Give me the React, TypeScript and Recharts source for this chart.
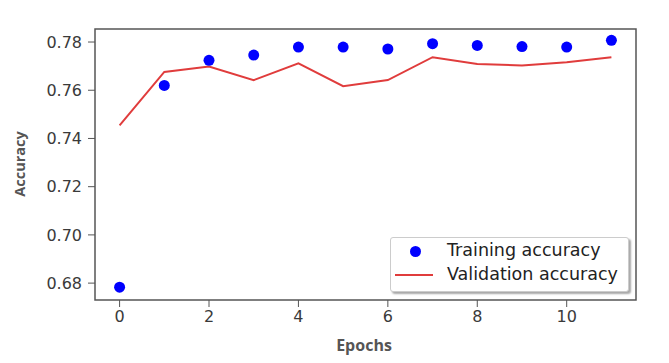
import {
  ComposedChart,
  Line,
  Scatter,
  XAxis,
  YAxis,
  ReferenceArea,
} from "recharts";

const EPOCHS = [0, 1, 2, 3, 4, 5, 6, 7, 8, 9, 10, 11];
const TRAIN_ACC = [0.6783, 0.762, 0.7724, 0.7746, 0.7779, 0.7779, 0.7771, 0.7793, 0.7786, 0.7781, 0.7779, 0.7807];
const VAL_ACC = [0.7454, 0.7676, 0.7698, 0.7642, 0.7712, 0.7617, 0.7642, 0.7737, 0.7709, 0.7703, 0.7716, 0.7737];
const X_TICKS = [0, 2, 4, 6, 8, 10];
const Y_TICKS = [0.68, 0.7, 0.72, 0.74, 0.76, 0.78];
const X_DOMAIN: [number, number] = [-0.55, 11.55];
const Y_DOMAIN: [number, number] = [0.673, 0.7854];

const data = EPOCHS.map((epoch, i) => ({
  epoch,
  train: TRAIN_ACC[i],
  val: VAL_ACC[i],
}));

const FRAME = "#555";
const TEXT = "#3a3a3a";
const FONT = "'DejaVu Sans', sans-serif";
const LABEL_FONT = "'Open Sans', sans-serif";
const TICK = { fontSize: 16, fill: TEXT, fontFamily: FONT } as const;

function LegendBox() {
  return (
    <div
      style={{
        position: "absolute",
        left: 390,
        top: 237,
        width: 239,
        height: 55,
        border: "1px solid #ccc",
        borderRadius: 3,
        background: "#fff",
        boxShadow: "2px 2px 2px rgba(0,0,0,0.35)",
        fontFamily: FONT,
        fontSize: 17.5,
        color: "#222",
        boxSizing: "border-box",
      }}
    >
      <div style={{ position: "absolute", left: 19, top: 8, width: 11, height: 11, borderRadius: 6, background: "#0000ff" }} />
      <div style={{ position: "absolute", left: 56, top: 2, whiteSpace: "nowrap" }}>Training accuracy</div>
      <div style={{ position: "absolute", left: 4, top: 36, width: 38, height: 2, background: "#e03c3c" }} />
      <div style={{ position: "absolute", left: 56, top: 26, whiteSpace: "nowrap" }}>Validation accuracy</div>
    </div>
  );
}

export default function App() {
  return (
    <div style={{ position: "absolute", left: 0, top: 0, width: 669, height: 363, background: "#fff" }}>
      <ComposedChart
        width={669}
        height={363}
        data={data}
        margin={{ top: 29, right: 33, bottom: 23, left: 0 }}
      >
        <XAxis
          dataKey="epoch"
          type="number"
          domain={X_DOMAIN}
          ticks={X_TICKS}
          allowDataOverflow
          height={40}
          tick={TICK}
          tickSize={7}
          tickMargin={4}
          tickLine={{ stroke: FRAME }}
          axisLine={false}
          label={{
            content: () => (
              <text x={364} y={351} textAnchor="middle" fontSize={16} fontWeight={700} fill="#555" fontFamily={LABEL_FONT}>
                Epochs
              </text>
            ),
          }}
        />
        <YAxis
          type="number"
          domain={Y_DOMAIN}
          ticks={Y_TICKS}
          allowDataOverflow
          width={95}
          tick={TICK}
          tickSize={7}
          tickMargin={6}
          tickFormatter={(v) => Number(v).toFixed(2)}
          tickLine={{ stroke: FRAME }}
          axisLine={false}
          label={{
            content: () => (
              <text
                x={25}
                y={164}
                transform="rotate(-90 25 164)"
                textAnchor="middle"
                fontSize={14.5}
                fontWeight={700}
                fill="#555"
                fontFamily={LABEL_FONT}
              >
                Accuracy
              </text>
            ),
          }}
        />
        <ReferenceArea
          x1={X_DOMAIN[0]}
          x2={X_DOMAIN[1]}
          y1={Y_DOMAIN[0]}
          y2={Y_DOMAIN[1]}
          fill="none"
          fillOpacity={0}
          stroke={FRAME}
          strokeWidth={1.5}
          ifOverflow="visible"
        />
        <Line
          dataKey="val"
          name="Validation accuracy"
          stroke="#e03c3c"
          strokeWidth={2}
          dot={false}
          isAnimationActive={false}
        />
        <Scatter
          dataKey="train"
          name="Training accuracy"
          fill="#0000ff"
          shape={(p: any) => <circle cx={p.cx} cy={p.cy} r={5.5} fill="#0000ff" />}
          isAnimationActive={false}
        />
      </ComposedChart>
      <LegendBox />
    </div>
  );
}
